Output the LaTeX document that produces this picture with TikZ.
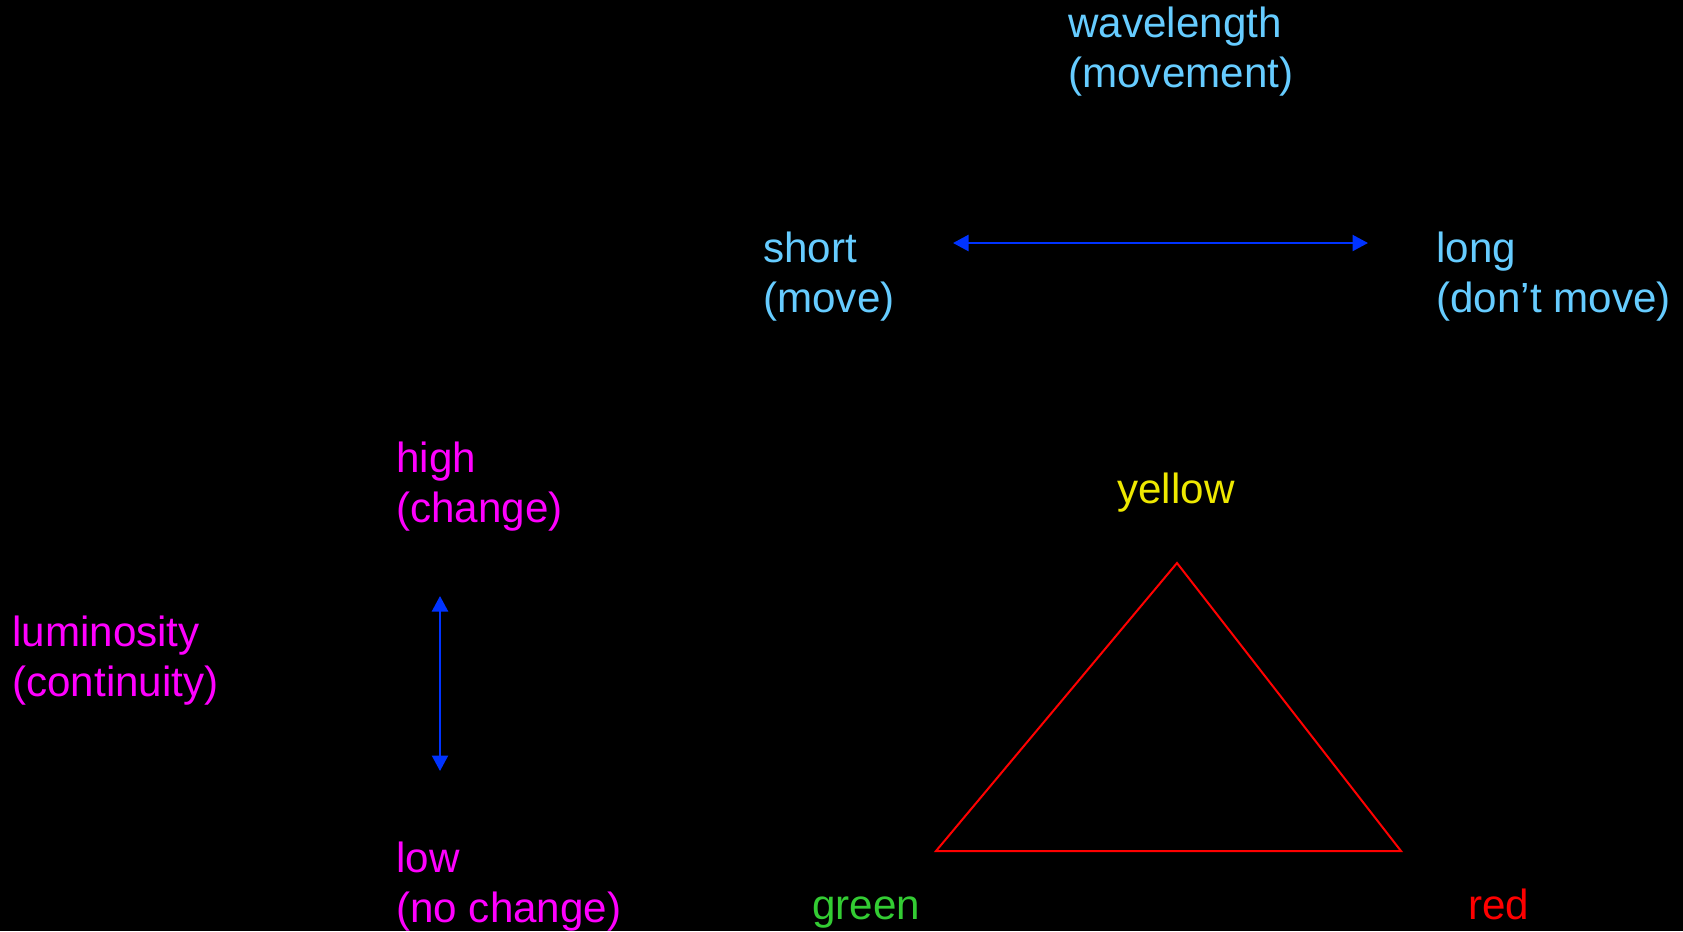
\documentclass[tikz,border=0pt]{standalone}
\usepackage{fontspec}
\setmainfont{Liberation Sans}
\usetikzlibrary{arrows.meta,positioning}
\definecolor{skyblue}{RGB}{102,204,255}
\definecolor{lumpink}{RGB}{255,0,255}
\definecolor{arrowblue}{RGB}{0,51,255}
\definecolor{yelw}{RGB}{238,232,0}
\definecolor{grn}{RGB}{51,204,51}
\definecolor{rd}{RGB}{255,0,0}

\begin{document}
\begin{tikzpicture}[
    x=0.02cm, y=-0.02cm,
    lbl/.style={anchor=base west, align=left, inner sep=0pt, font=\fontsize{24}{28.4}\selectfont},
    dbl/.style={{Triangle[length=0.31cm,width=0.32cm]}-{Triangle[length=0.31cm,width=0.32cm]}, line width=0.045cm, arrowblue}
  ]
  \fill[black] (0,0) rectangle (1683,931);

  % wavelength axis (nodes sit on the baseline of their last line)
  \node[lbl, skyblue] (wave) at (1068,87) {wavelength\\(movement)};
  \node[lbl, skyblue] (short) at (763,312) {short\\(move)};
  \node[lbl, skyblue] (long) at (1436,312) {long\\(don’t move)};
  \coordinate (wl) at (953,243);
  \coordinate (wr) at (1368,243);
  \draw[dbl] (wl) -- (wr);

  % luminosity axis
  \node[lbl, lumpink] (high) at (396,522) {high\\(change)};
  \node[lbl, lumpink] (lum) at (12,696) {luminosity\\(continuity)};
  \node[lbl, lumpink] (low) at (396,922) {low\\(no change)};
  \coordinate (lt) at (440,596);
  \coordinate (lb) at (440,771);
  \draw[dbl] (lt) -- (lb);

  % colour triangle
  \node[lbl, yelw] (yellow) at (1117,503) {yellow};
  \node[lbl, grn] (green) at (812,919) {green};
  \node[lbl, rd] (red) at (1468,919) {red};
  \coordinate (ty) at (1177,563);
  \coordinate (tg) at (936,851);
  \coordinate (tr) at (1401,851);
  \draw[rd, line width=0.04cm] (ty) -- (tg) -- (tr) -- cycle;
\end{tikzpicture}
\end{document}
